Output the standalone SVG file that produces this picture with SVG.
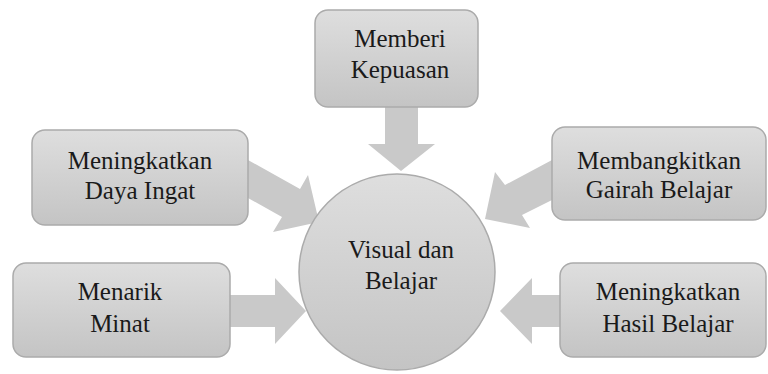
<svg xmlns="http://www.w3.org/2000/svg" width="768" height="374" viewBox="0 0 768 374">
<defs>
<linearGradient id="g" x1="0" y1="0" x2="0" y2="1">
<stop offset="0" stop-color="#dedede"/>
<stop offset="1" stop-color="#c4c4c4"/>
</linearGradient>
</defs>
<style>
.box{fill:url(#g);stroke:#ababab;stroke-width:1.5}
.arr{fill:#c9c9c9;stroke:none}
</style>
<rect width="768" height="374" fill="#ffffff"/>
<g id="connectors">
<polygon class="arr" points="385,106 418,106 418,144 435,144 401,171 368,144 385,144"/>
<polygon class="arr" points="248,160 300,189 308,175 319,222 273,232 282,217 248,198"/>
<polygon class="arr" points="552,160 505,185 495,172 485,219 530,228 522,215 552,200"/>
<polygon class="arr" points="230,295 275,295 275,278 306,311 275,344 275,327 230,327"/>
<polygon class="arr" points="560,295 532,295 532,278 500,311 532,344 532,327 560,327"/>
</g>
<g font-family="Liberation Serif, DejaVu Serif, serif" font-size="25" fill="#1a1a1a" text-anchor="middle">
<g id="center">
<circle cx="397" cy="272" r="98" class="box"/>
<text x="401" y="258" fill="#1a1a1a">Visual dan</text>
<text x="401" y="289" fill="#1a1a1a">Belajar</text>
</g>
<g id="memberi-kepuasan">
<rect x="315" y="10" width="163" height="97" rx="13" class="box"/>
<text x="400" y="47" fill="#1a1a1a">Memberi</text>
<text x="400" y="78" fill="#1a1a1a">Kepuasan</text>
</g>
<g id="meningkatkan-daya-ingat">
<rect x="32" y="130" width="216" height="95" rx="13" class="box"/>
<text x="140" y="169" fill="#1a1a1a">Meningkatkan</text>
<text x="140" y="199" fill="#1a1a1a">Daya Ingat</text>
</g>
<g id="membangkitkan-gairah-belajar">
<rect x="552" y="127" width="214" height="93" rx="13" class="box"/>
<text x="659" y="169" fill="#1a1a1a">Membangkitkan</text>
<text x="659" y="198" fill="#1a1a1a">Gairah Belajar</text>
</g>
<g id="menarik-minat">
<rect x="13" y="263" width="217" height="94" rx="13" class="box"/>
<text x="120" y="300" fill="#1a1a1a">Menarik</text>
<text x="120" y="332" fill="#1a1a1a">Minat</text>
</g>
<g id="meningkatkan-hasil-belajar">
<rect x="560" y="263" width="206" height="94" rx="13" class="box"/>
<text x="668" y="300" fill="#1a1a1a">Meningkatkan</text>
<text x="668" y="332" fill="#1a1a1a">Hasil Belajar</text>
</g>
</g>
</svg>
